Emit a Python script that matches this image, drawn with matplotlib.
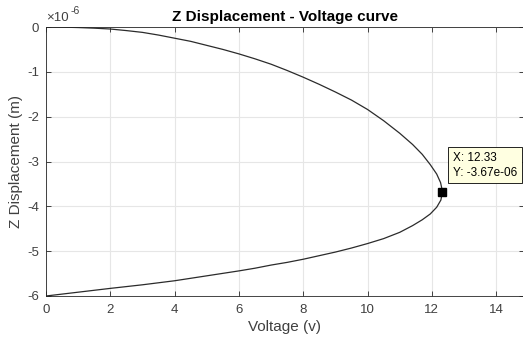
import numpy as np
import matplotlib
matplotlib.use('Agg')
import matplotlib.pyplot as plt
from matplotlib.ticker import FuncFormatter

# upper branch then lower branch (displacement in um)
voltage = [0, 0.5, 1, 1.5, 2, 2.5, 3, 3.5, 4, 4.5, 5, 5.5, 6, 6.5, 7, 7.5, 8, 8.5, 9, 9.5,
           10, 10.5, 11, 11.4, 11.7, 11.95, 12.15, 12.27, 12.33,
           12.28, 12.15, 11.95, 11.7, 11.4, 11, 10.5, 10, 9.5, 9, 8.5, 8, 7.5, 7, 6.5, 6,
           5, 4, 3, 2, 1, 0]
disp_um = [0, -0.003, -0.012, -0.026, -0.045, -0.08, -0.12, -0.18, -0.25, -0.32, -0.41,
           -0.50, -0.60, -0.71, -0.83, -0.97, -1.12, -1.28, -1.45, -1.63,
           -1.84, -2.09, -2.37, -2.62, -2.84, -3.07, -3.28, -3.47, -3.67,
           -3.86, -4.02, -4.17, -4.30, -4.43, -4.58, -4.72, -4.83, -4.93, -5.02, -5.10,
           -5.18, -5.25, -5.31, -5.38, -5.44, -5.55, -5.66, -5.75, -5.83, -5.915, -6.0]
tip_v = 12.33
tip_z = -3.67e-06

plt.rcParams['font.family'] = ['Liberation Sans', 'DejaVu Sans']
plt.rcParams['axes.unicode_minus'] = False

disp = np.array(disp_um) * 1e-6
txt = '#404040'

fig = plt.figure(figsize=(5.23, 3.42), dpi=100, facecolor='white')
ax = fig.add_axes([46 / 523, 46 / 342, 1 - 46 / 523 + 0.001, (296 - 27) / 342])

ax.plot(voltage, disp, color='#2b2b2b', lw=0.9)
ax.plot([tip_v], [tip_z], 's', color='black', ms=6)

ax.set_xlim(0, 14.85)
ax.set_ylim(-6e-6, 0)
ax.set_xticks(np.arange(0, 15, 2))
ax.set_yticks(np.arange(-6, 1) * 1e-6)
ax.yaxis.set_major_formatter(FuncFormatter(lambda v, _: f'{round(v * 1e6) + 0:d}'))

# exponent label like MATLAB, with a plain hyphen
ax.text(0.0, 1.012, '\u00d710', transform=ax.transAxes, fontsize=9.5, color=txt,
        ha='left', va='bottom')
ax.text(0.052, 1.04, '-6', transform=ax.transAxes, fontsize=7.5, color=txt,
        ha='left', va='bottom')

ax.grid(True, color='#e6e6e6', lw=0.8)
ax.set_axisbelow(True)
ax.tick_params(direction='in', top=True, right=True, length=3.5, width=0.6,
               colors='#262626', labelsize=9.5, labelcolor=txt)
ax.tick_params(axis='x', pad=6)
ax.tick_params(axis='y', pad=5)
for s in ax.spines.values():
    s.set_color('#262626')
    s.set_linewidth(0.6)

ax.set_title('Z Displacement - Voltage curve', fontsize=11, fontweight='bold', pad=4)
ax.set_xlabel('Voltage (v)', fontsize=11, color=txt, labelpad=3)
ax.set_ylabel('Z Displacement (m)', fontsize=11, color=txt, labelpad=3)

ax.annotate('X: 12.33\nY: -3.67e-06', xy=(tip_v, tip_z), xytext=(7.5, 19),
            textcoords='offset points', fontsize=8.5, va='center', ha='left',
            linespacing=1.35,
            bbox=dict(boxstyle='square,pad=0.4', fc='#ffffe1', ec='black', lw=0.6))

fig.savefig('out.png', dpi=100, facecolor='white')
